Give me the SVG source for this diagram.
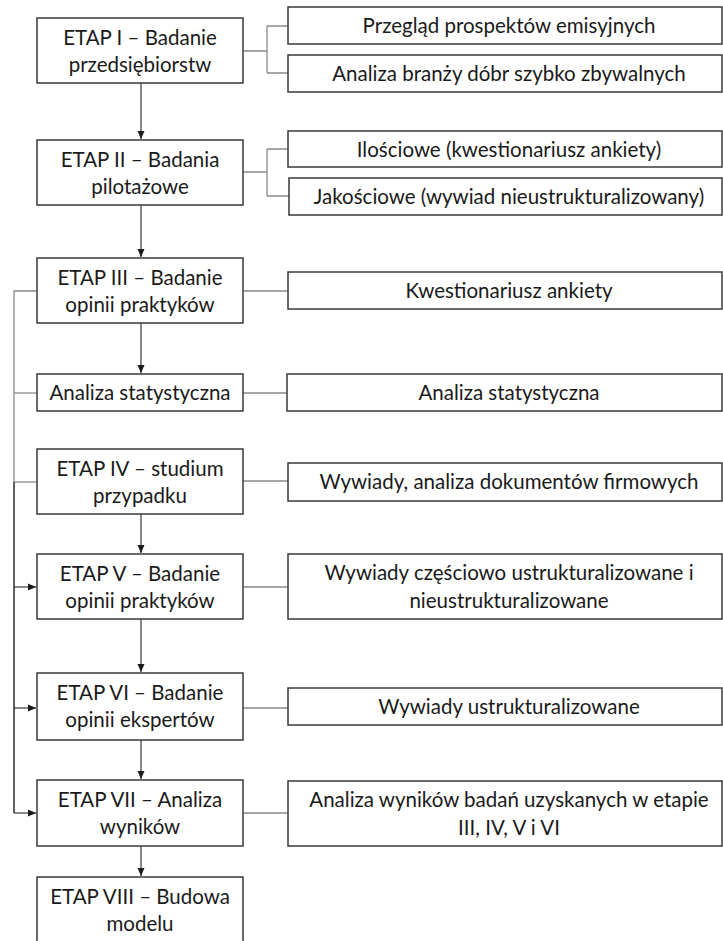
<svg xmlns="http://www.w3.org/2000/svg" width="723" height="941" viewBox="0 0 723 941">
  <defs>
    <marker id="arrow" markerUnits="userSpaceOnUse" markerWidth="9" markerHeight="8" refX="8" refY="4" orient="auto">
      <path d="M0,0.5 L8,4 L0,7.5 z" fill="#1a1a1a"/>
    </marker>
    <style>
      .box { fill: #ffffff; stroke: #3a3a3a; stroke-width: 1.5; }
      .txt { font-family: Lato, "Liberation Sans", sans-serif; font-size: 20.5px; fill: #1a1a1a; text-anchor: middle; }
      .link { fill: none; stroke: #8a8a8a; stroke-width: 1.3; }
      .flow { fill: none; stroke: #262626; stroke-width: 1.1; }
      .feed { fill: none; stroke: #3a3a3a; stroke-width: 1.6; }
    </style>
  </defs>

  <!-- connectors -->
  <g id="connectors">
    <!-- brackets to the right-hand detail boxes -->
    <path class="link" d="M243,51 H267 M267,26 V73 M267,26 H288 M267,73 H288"/>
    <path class="link" d="M243,172 H267 M267,149 V196 M267,149 H288 M267,196 H289"/>
    <path class="link" d="M243,291 H288"/>
    <path class="link" d="M243,393 H288"/>
    <path class="link" d="M243,481 H288"/>
    <path class="link" d="M243,587 H288"/>
    <path class="link" d="M243,708 H288"/>
    <path class="link" d="M243,813 H288"/>

    <!-- main downward flow -->
    <path class="flow" d="M141,83 V139" marker-end="url(#arrow)"/>
    <path class="flow" d="M141,205 V257" marker-end="url(#arrow)"/>
    <path class="flow" d="M141,323 V373" marker-end="url(#arrow)"/>
    <path class="flow" d="M141,514 V553" marker-end="url(#arrow)"/>
    <path class="flow" d="M141,619 V672" marker-end="url(#arrow)"/>
    <path class="flow" d="M141,740 V779" marker-end="url(#arrow)"/>
    <path class="flow" d="M141,846 V876" marker-end="url(#arrow)"/>

    <!-- left feedback rail -->
    <path class="link" d="M37,291 H14 V482"/>
    <path class="link" d="M14,393 H37"/>
    <path class="link" d="M14,482 H37"/>
    <path class="feed" d="M14,482 V813"/>
    <path class="flow" d="M14,587 H36" marker-end="url(#arrow)"/>
    <path class="flow" d="M14,708 H36" marker-end="url(#arrow)"/>
    <path class="flow" d="M14,813 H36" marker-end="url(#arrow)"/>
  </g>

  <!-- stages -->
  <g id="etap1">
    <rect class="box" x="37" y="18" width="206" height="65"/>
    <text class="txt" x="140" y="45">ETAP I – Badanie</text>
    <text class="txt" x="140" y="72">przedsiębiorstw</text>
  </g>
  <g id="etap2">
    <rect class="box" x="37" y="140" width="206" height="65"/>
    <text class="txt" x="140" y="167">ETAP II – Badania</text>
    <text class="txt" x="140" y="194">pilotażowe</text>
  </g>
  <g id="etap3">
    <rect class="box" x="37" y="258" width="206" height="65"/>
    <text class="txt" x="140" y="285">ETAP III – Badanie</text>
    <text class="txt" x="140" y="312">opinii praktyków</text>
  </g>
  <g id="analiza">
    <rect class="box" x="37" y="374" width="206" height="37"/>
    <text class="txt" x="140" y="400">Analiza statystyczna</text>
  </g>
  <g id="etap4">
    <rect class="box" x="37" y="449" width="206" height="65"/>
    <text class="txt" x="140" y="476">ETAP IV – studium</text>
    <text class="txt" x="140" y="503">przypadku</text>
  </g>
  <g id="etap5">
    <rect class="box" x="37" y="554" width="206" height="65"/>
    <text class="txt" x="140" y="581">ETAP V – Badanie</text>
    <text class="txt" x="140" y="608">opinii praktyków</text>
  </g>
  <g id="etap6">
    <rect class="box" x="37" y="673" width="206" height="67"/>
    <text class="txt" x="140" y="700">ETAP VI – Badanie</text>
    <text class="txt" x="140" y="727">opinii ekspertów</text>
  </g>
  <g id="etap7">
    <rect class="box" x="37" y="780" width="206" height="66"/>
    <text class="txt" x="140" y="807">ETAP VII – Analiza</text>
    <text class="txt" x="140" y="834">wyników</text>
  </g>
  <g id="etap8">
    <rect class="box" x="37" y="877" width="206" height="66"/>
    <text class="txt" x="140" y="904">ETAP VIII – Budowa</text>
    <text class="txt" x="140" y="931">modelu</text>
  </g>

  <!-- detail boxes -->
  <g id="d1a">
    <rect class="box" x="288" y="7" width="434" height="37"/>
    <text class="txt" x="509" y="33">Przegląd prospektów emisyjnych</text>
  </g>
  <g id="d1b">
    <rect class="box" x="288" y="55" width="434" height="37"/>
    <text class="txt" x="509" y="81">Analiza branży dóbr szybko zbywalnych</text>
  </g>
  <g id="d2a">
    <rect class="box" x="288" y="131" width="434" height="36"/>
    <text class="txt" x="509" y="157">Ilościowe (kwestionariusz ankiety)</text>
  </g>
  <g id="d2b">
    <rect class="box" x="289" y="178" width="433" height="37"/>
    <text class="txt" x="509" y="204">Jakościowe (wywiad nieustrukturalizowany)</text>
  </g>
  <g id="d3">
    <rect class="box" x="288" y="272" width="434" height="37"/>
    <text class="txt" x="509" y="298">Kwestionariusz ankiety</text>
  </g>
  <g id="dstat">
    <rect class="box" x="287" y="374" width="435" height="37"/>
    <text class="txt" x="509" y="400">Analiza statystyczna</text>
  </g>
  <g id="d4">
    <rect class="box" x="288" y="463" width="434" height="38"/>
    <text class="txt" x="509" y="489">Wywiady, analiza dokumentów firmowych</text>
  </g>
  <g id="d5">
    <rect class="box" x="288" y="554" width="434" height="65"/>
    <text class="txt" x="509" y="580">Wywiady częściowo ustrukturalizowane i</text>
    <text class="txt" x="509" y="608">nieustrukturalizowane</text>
  </g>
  <g id="d6">
    <rect class="box" x="288" y="688" width="434" height="37"/>
    <text class="txt" x="509" y="714">Wywiady ustrukturalizowane</text>
  </g>
  <g id="d7">
    <rect class="box" x="288" y="781" width="434" height="65"/>
    <text class="txt" x="509" y="807">Analiza wyników badań uzyskanych w etapie</text>
    <text class="txt" x="509" y="835">III, IV, V i VI</text>
  </g>
</svg>
